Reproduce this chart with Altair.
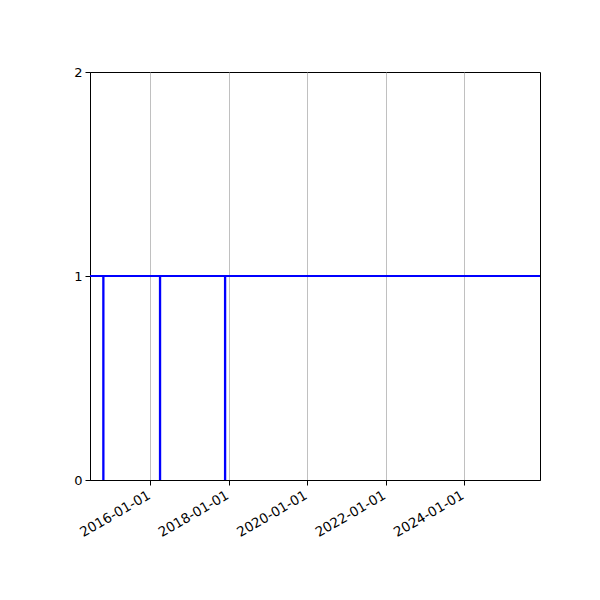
import altair as alt
import pandas as pd

dates = [
    "2014-06-01",
    "2014-10-19", "2014-10-19", "2014-10-22", "2014-10-22",
    "2016-03-30", "2016-03-30", "2016-04-02", "2016-04-02",
    "2017-11-26", "2017-11-26", "2017-11-29", "2017-11-29",
    "2026-01-01",
]
values = [1, 1, 0, 0, 1, 1, 0, 0, 1, 1, 0, 0, 1, 1]
tick_dates = ["2016-01-01", "2018-01-01", "2020-01-01", "2022-01-01", "2024-01-01"]
y_ticks = [0.0, 1.0, 2.0]
x_domain = ["2014-06-18", "2025-12-09"]

df = pd.DataFrame({"date": pd.to_datetime(dates), "value": values, "idx": range(len(dates))})

chart = alt.Chart(df).mark_line(color="#0000ff", strokeWidth=2, clip=True).encode(
    x=alt.X(
        "date:T",
        scale=alt.Scale(domain=[pd.Timestamp(d).isoformat() for d in x_domain]),
        axis=alt.Axis(
            values=[pd.Timestamp(d).isoformat() for d in tick_dates],
            format="%Y-%m-%d",
            labelAngle=-30,
            labelAlign="right",
            labelBaseline="top",
            labelOverlap=False,
            labelOffset=-5,
            labelFontSize=13.5,
            grid=True,
            gridColor="#b0b0b0",
            gridWidth=0.8,
            gridOpacity=1,
            title=None,
        ),
    ),
    y=alt.Y(
        "value:Q",
        scale=alt.Scale(domain=[0, 2], nice=False, zero=False),
        axis=alt.Axis(values=y_ticks, format=".0f", grid=False, labelOverlap=False,
                      labelFlush=False, labelBound=False, title=None),
    ),
    order="idx:Q",
).properties(
    width=450,
    height=408,
    background="white",
    autosize=alt.AutoSizeParams(type="none"),
    padding={"left": 82, "top": 64, "right": 52, "bottom": 112},
).configure_view(
    stroke="black", strokeWidth=1
).configure_axis(
    domainColor="black",
    tickColor="black",
    tickSize=5,
    labelColor="black",
    labelFont="DejaVu Sans",
    labelFontSize=13,
    labelPadding=3,
    domainWidth=1,
)

chart.save("out.html", embed_options={"renderer": "svg", "actions": False})
